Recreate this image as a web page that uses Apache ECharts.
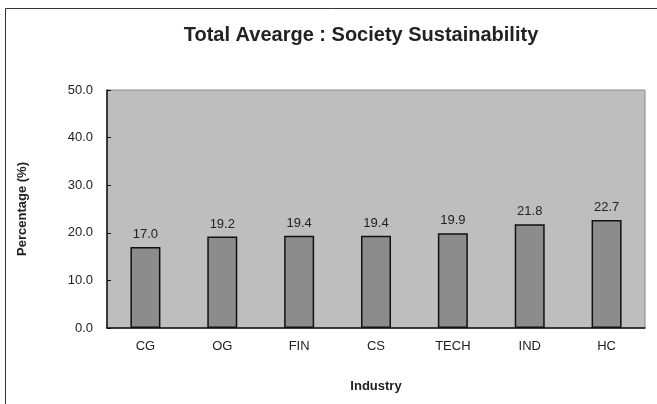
<!DOCTYPE html>
<html lang="en">
<head>
    <meta charset="UTF-8">
    <script src="https://cdn.jsdelivr.net/npm/echarts@6/dist/echarts.min.js"></script>
    <title>Total Avearge : Society Sustainability</title>
    <style>
        html, body { margin: 0; padding: 0; background: #fff; }
        #chart { width: 657px; height: 404px; }
    </style>
</head>
<body>
<div id="chart"></div>
<script type="text/javascript">
    var industries = ['CG', 'OG', 'FIN', 'CS', 'TECH', 'IND', 'HC'];
    var averages = [17.0, 19.2, 19.4, 19.4, 19.9, 21.8, 22.7];

    var myChart = echarts.init(document.getElementById('chart'));
    var font = '"Liberation Sans", Arial, sans-serif';
    var option = {
        backgroundColor: '#fff',
        animation: false,
        title: {
            text: 'Total Avearge : Society Sustainability',
            left: 356,
            textAlign: 'center',
            top: 20,
            textStyle: { fontFamily: font, fontSize: 20, fontWeight: 'bold', color: '#222' }
        },
        graphic: [
            {
                type: 'rect',
                shape: { x: 5.5, y: 8.5, width: 700, height: 450 },
                style: { fill: 'none', stroke: '#333', lineWidth: 1 }
            }
        ],
        grid: {
            left: 107, right: 12, top: 90, bottom: 76,
            show: true,
            backgroundColor: '#bebebe',
            borderColor: '#8a8a8a',
            borderWidth: 1
        },
        xAxis: {
            type: 'category',
            data: industries,
            name: 'Industry',
            nameLocation: 'middle',
            nameGap: 52,
            nameTextStyle: { fontFamily: font, fontSize: 13, fontWeight: 'bold', color: '#222' },
            axisLine: { lineStyle: { color: '#111', width: 1.5 } },
            axisTick: { inside: true, length: 4, lineStyle: { color: '#111' } },
            axisLabel: { fontFamily: font, fontSize: 13, color: '#222', margin: 12 },
            splitLine: { show: false }
        },
        yAxis: {
            type: 'value',
            min: 0, max: 50, interval: 10,
            name: 'Percentage (%)',
            nameLocation: 'middle',
            nameGap: 78,
            nameTextStyle: { fontFamily: font, fontSize: 13, fontWeight: 'bold', color: '#222' },
            axisLine: { show: true, lineStyle: { color: '#111', width: 1.5 } },
            axisTick: { show: true, inside: true, length: 4, lineStyle: { color: '#111' } },
            axisLabel: {
                fontFamily: font, fontSize: 13, color: '#222', margin: 14,
                formatter: function (v) { return v.toFixed(1); }
            },
            splitLine: { show: false }
        },
        series: [
            {
                type: 'bar',
                data: averages,
                barWidth: 30,
                itemStyle: { color: '#8c8c8c', borderColor: '#111', borderWidth: 1.5 },
                label: {
                    show: true,
                    position: 'top',
                    distance: 6,
                    fontFamily: font, fontSize: 13, color: '#222',
                    formatter: function (p) { return p.value.toFixed(1); }
                }
            }
        ]
    };
    myChart.setOption(option);
</script>
</body>
</html>
